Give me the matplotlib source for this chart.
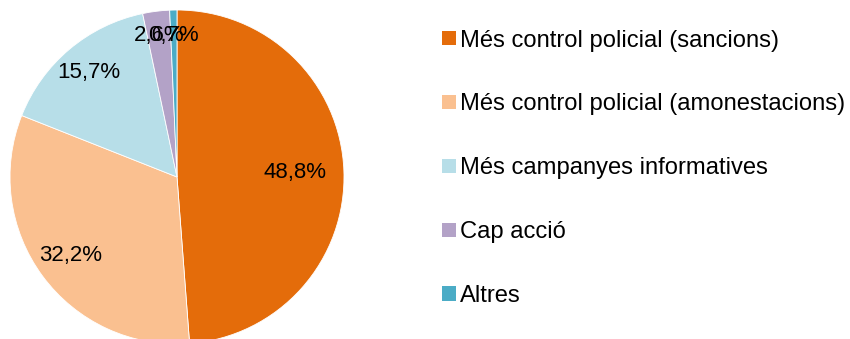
import numpy as np
import matplotlib
matplotlib.use("Agg")
import matplotlib.pyplot as plt

plt.rcParams['font.family'] = ['Liberation Sans', 'DejaVu Sans']

categories = [
    "Més control policial (sancions)",
    "Més control policial (amonestacions)",
    "Més campanyes informatives",
    "Cap acció",
    "Altres",
]
values = [48.8, 32.2, 15.7, 2.6, 0.7]
colors = ["#E46C0A", "#FAC090", "#B7DEE8", "#B3A2C7", "#4BACC6"]
label_dist = [0.705, 0.79, 0.82, 0.853, 0.845]

fig = plt.figure(figsize=(8.5, 3.39), dpi=100)
W, H = 850, 339
cx, cy, r = 177, 177, 167
ax = fig.add_axes([(cx - r) / W, (H - cy - r) / H, 2 * r / W, 2 * r / H])

wedges, _ = ax.pie(values, colors=colors, startangle=90, counterclock=False,
                   radius=1.0, wedgeprops=dict(edgecolor="white", linewidth=0.6))
ax.set_xlim(-1, 1)
ax.set_ylim(-1, 1)
ax.set_aspect("equal")
ax.axis("off")

# percentage labels inside each slice
for w, v, d in zip(wedges, values, label_dist):
    ang = np.deg2rad((w.theta1 + w.theta2) / 2)
    txt = f"{v:.1f}%".replace(".", ",")
    ax.text(d * np.cos(ang), d * np.sin(ang), txt, ha="center", va="center",
            fontsize=16, color="black")

leg = fig.legend(wedges, categories, loc="upper left",
                 bbox_to_anchor=(442 / W, 1 - 29.5 / H), frameon=False,
                 fontsize=17.1, handlelength=0.57, handleheight=0.57,
                 handletextpad=0.18, labelspacing=1.765, borderpad=0,
                 borderaxespad=0)
for h in leg.legend_handles:
    h.set_linewidth(0)

fig.savefig("out.png", dpi=100)
